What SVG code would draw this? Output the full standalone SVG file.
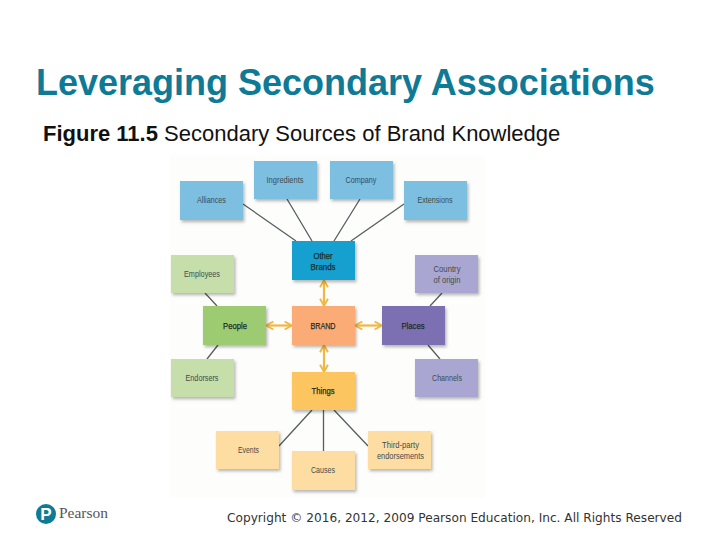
<svg xmlns="http://www.w3.org/2000/svg" width="720" height="540" viewBox="0 0 720 540">
<style>
text{font-family:"Liberation Sans",Arial,sans-serif}
.t{font-size:9.5px;text-anchor:middle;fill:#3f4c4c;font-family:"Liberation Sans",Arial,sans-serif}
.b{fill:#1c2a28;stroke:#1c2a28;stroke-width:.25}
.box{filter:url(#s)}
.l{stroke:#555f5f;stroke-width:1.3;fill:none}
.a{stroke:#f0b840;stroke-width:2.2;fill:none;marker-start:url(#h);marker-end:url(#h)}
</style>
<defs>
<filter id="s" x="-10%" y="-10%" width="125%" height="130%"><feDropShadow dx="1.5" dy="2.2" stdDeviation="1.4" flood-color="#000" flood-opacity="0.28"/></filter>
<marker id="h" viewBox="0 0 10 10" refX="9" refY="5" markerWidth="3.6" markerHeight="4.2" orient="auto-start-reverse" markerUnits="strokeWidth"><path d="M1 0L10 5L1 10" fill="none" stroke="#f0b840" stroke-width="2.4"/></marker>
</defs>
<rect width="720" height="540" fill="#fff"/>
<rect x="170" y="155" width="315" height="343" fill="#fdfdfb"/>
<text x="36" y="95" font-size="36" font-weight="bold" fill="#0f7a96" id="title">Leveraging Secondary Associations</text>
<text x="43" y="141" font-size="22" fill="#111" id="subtitle"><tspan font-weight="bold">Figure 11.5</tspan> Secondary Sources of Brand Knowledge</text>
<g id="connectors">
<path class="l" d="M243 204L296 241M287 199L312 241M360 199L334 241M404 204L351 241M205 293L217 306M442 293L430 306M218 345L207 359M428 345L440 359M312 410L279 446M323.500 410V451M334 410L368 446"/>
<path class="a" d="M324 281V305"/>
<path class="a" d="M324 346V371"/>
<path class="a" d="M267 325.500H291"/>
<path class="a" d="M356 325.500H381"/>
</g>
<g id="n-alliances"><rect class="box" x="180" y="181" width="63" height="39" fill="#7cbfe0"/><text class="t" x="211.500" y="203" textLength="29" lengthAdjust="spacingAndGlyphs">Alliances</text></g>
<g id="n-ingredients"><rect class="box" x="254" y="161" width="63" height="38" fill="#7cbfe0"/><text class="t" x="285" y="183" textLength="37" lengthAdjust="spacingAndGlyphs">Ingredients</text></g>
<g id="n-company"><rect class="box" x="330" y="161" width="63" height="38" fill="#7cbfe0"/><text class="t" x="361" y="183" textLength="31" lengthAdjust="spacingAndGlyphs">Company</text></g>
<g id="n-extensions"><rect class="box" x="404" y="181" width="63" height="39" fill="#7cbfe0"/><text class="t" x="435" y="203" textLength="35" lengthAdjust="spacingAndGlyphs">Extensions</text></g>
<g id="n-other"><rect class="box" x="292" y="241" width="63" height="39" fill="#14a0cf"/><text class="t b" x="323" y="258.500" textLength="19" lengthAdjust="spacingAndGlyphs">Other</text><text class="t b" x="323" y="269.500" textLength="25" lengthAdjust="spacingAndGlyphs">Brands</text></g>
<g id="n-employees"><rect class="box" x="171" y="255" width="63" height="38" fill="#c6deaa"/><text class="t" x="202" y="277" textLength="36" lengthAdjust="spacingAndGlyphs">Employees</text></g>
<g id="n-country"><rect class="box" x="415" y="255" width="63" height="38" fill="#aaa6d2"/><text class="t" x="447" y="272" textLength="27" lengthAdjust="spacingAndGlyphs">Country</text><text class="t" x="447" y="283" textLength="27" lengthAdjust="spacingAndGlyphs">of origin</text></g>
<g id="n-people"><rect class="box" x="203" y="306" width="63" height="39" fill="#9dcb72"/><text class="t b" x="235" y="328.500" textLength="24" lengthAdjust="spacingAndGlyphs">People</text></g>
<g id="n-brand"><rect class="box" x="292" y="306" width="63" height="39" fill="#fbab74"/><text class="t b" x="323" y="328.500" textLength="25" lengthAdjust="spacingAndGlyphs">BRAND</text></g>
<g id="n-places"><rect class="box" x="382" y="306" width="63" height="39" fill="#7d70b2"/><text class="t b" x="413" y="328.500" textLength="23" lengthAdjust="spacingAndGlyphs">Places</text></g>
<g id="n-endorsers"><rect class="box" x="171" y="359" width="63" height="38" fill="#c6deaa"/><text class="t" x="202" y="380.500" textLength="33" lengthAdjust="spacingAndGlyphs">Endorsers</text></g>
<g id="n-channels"><rect class="box" x="415" y="359" width="63" height="38" fill="#aaa6d2"/><text class="t" x="447" y="380.500" textLength="30" lengthAdjust="spacingAndGlyphs">Channels</text></g>
<g id="n-things"><rect class="box" x="292" y="372" width="63" height="38" fill="#fdc55e"/><text class="t b" x="323" y="393.500" textLength="23" lengthAdjust="spacingAndGlyphs">Things</text></g>
<g id="n-events"><rect class="box" x="216" y="431" width="63" height="38" fill="#fedda3"/><text class="t" x="248.500" y="452.500" textLength="21" lengthAdjust="spacingAndGlyphs">Events</text></g>
<g id="n-causes"><rect class="box" x="292" y="451" width="63" height="39" fill="#fedda3"/><text class="t" x="323" y="472.500" textLength="24" lengthAdjust="spacingAndGlyphs">Causes</text></g>
<g id="n-third"><rect class="box" x="368" y="431" width="63" height="38" fill="#fedda3"/><text class="t" x="400.500" y="448" textLength="37" lengthAdjust="spacingAndGlyphs">Third-party</text><text class="t" x="400.500" y="459" textLength="47" lengthAdjust="spacingAndGlyphs">endorsements</text></g>
<g id="logo"><circle cx="46" cy="514" r="10" fill="#0f7a96"/><text x="46" y="520" font-size="17" font-weight="bold" fill="#fff" text-anchor="middle">P</text><text x="59" y="518" font-size="15" fill="#555" style="font-family:'Liberation Serif',serif" textLength="49" lengthAdjust="spacingAndGlyphs">Pearson</text></g>
<text x="227" y="522" font-size="12.500" fill="#333" style="font-family:'DejaVu Sans',sans-serif" textLength="455" lengthAdjust="spacingAndGlyphs">Copyright © 2016, 2012, 2009 Pearson Education, Inc. All Rights Reserved</text>
</svg>
